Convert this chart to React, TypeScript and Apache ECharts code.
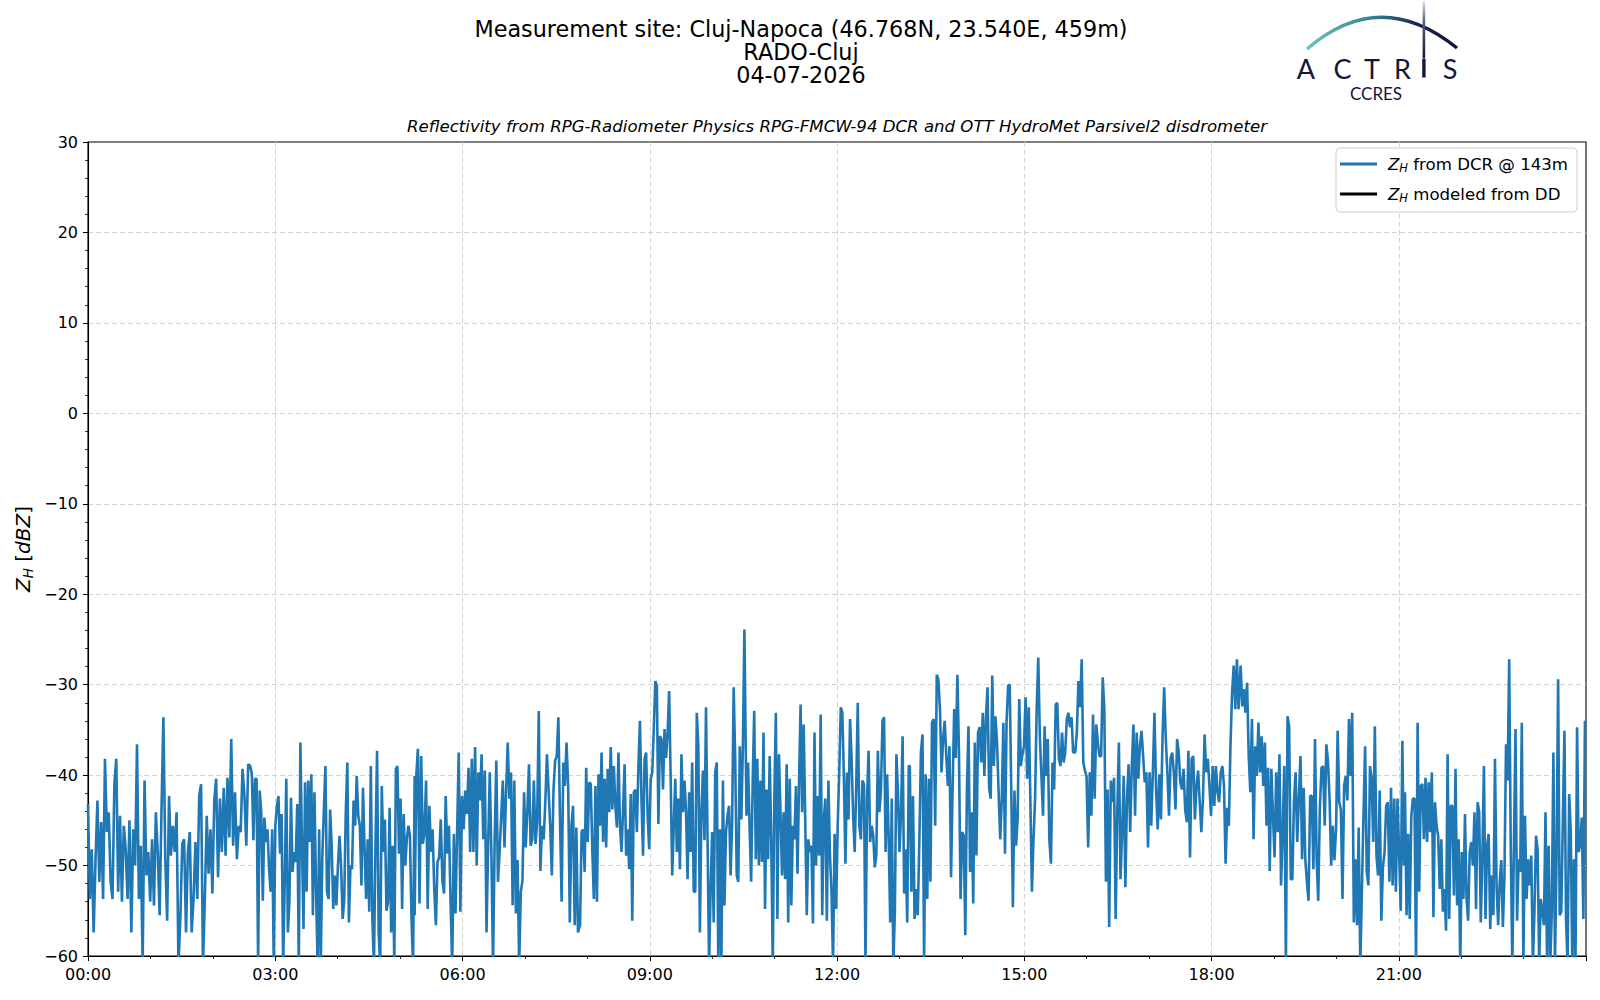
import React, { useEffect, useRef } from "react";
import * as echarts from "echarts";

// Reflectivity Z_H from DCR @ 143m, dBZ. Each segment is read from one stretch of the picture
// and spread evenly over its time span (minutes after 00:00).
const seg0 = [
  -43.2, -53.7, -48.2, -57.4, -49.3, -42.8, -51.8, -45.2, -53.7, -38.2,
  -46.3, -44.1, -51.8, -53.7, -41.0, -38.2, -52.9, -44.5, -54.0, -45.6,
  -48.2, -53.7, -45.0, -57.4, -46.0, -50.0, -36.6, -53.7, -47.8, -61,
  -40.6, -51.1, -48.5, -54.0, -47.1, -54.4, -44.1, -48.5, -55.5, -43.8,
  -33.6, -49.3, -56.1, -42.3, -48.9, -45.6, -48.5, -44.1, -61, -55.9,
  -47.6, -47.1, -57.4, -48.5, -46.3, -57.4, -53.7, -47.4, -53.7, -42.3,
  -41.0, -61, -53.7, -44.5, -50.9, -46.0, -53.1, -42.8, -40.4, -51.3,
  -42.6, -48.5, -41.4, -48.9, -40.3, -46.9, -36.0, -47.8, -41.9, -49.3,
  -45.6, -46.3, -39.3, -42.3, -47.8, -38.8,
];
const seg1 = [
  -39.0, -39.9, -47.2, -40.4, -40.4, -61, -41.7, -44.1, -53.9, -44.7,
  -47.4, -46.0, -50.4, -52.9, -46.0, -61, -45.6, -43.4, -42.3, -48.7,
  -44.3, -61, -51.8, -40.4, -57.4, -54.0, -42.5, -50.7, -48.5, -49.6,
  -43.2, -61, -36.4, -47.4, -57.0, -40.8, -52.9, -40.6, -47.4, -39.9,
  -55.5, -41.9, -52.6, -61, -46.0, -61, -49.1, -43.9, -39.0, -52.9,
  -53.7, -43.8, -47.8, -54.8, -51.1, -54.4, -50.0, -46.7, -50.0, -55.9,
  -53.9, -44.1, -38.6, -56.3, -50.0, -50.4, -42.8, -45.6, -40.1, -44.5,
  -45.6, -52.2, -41.4, -48.2, -53.7, -47.1, -55.1, -39.0, -55.9, -61,
  -47.4, -37.3, -57.4, -61, -41.2, -48.5, -44.9, -55.0, -54.0, -43.6,
  -57.4, -47.8, -61, -39.3, -39.0, -48.7, -42.6, -54.8, -44.3, -50.0,
  -47.1, -45.6, -46.7, -55.9, -61, -40.1,
];
const seg2 = [
  -55.5, -40.1, -37.1, -54.2, -37.9, -47.6, -46.3, -40.6, -54.8, -43.4,
  -48.5, -46.0, -52.6, -56.6, -49.6, -49.1, -44.9, -51.7, -53.1, -42.3,
  -48.7, -45.6, -54.0, -61, -46.5, -55.3, -46.3, -37.5, -55.1, -42.3,
  -46.0, -41.7, -44.3, -39.2, -48.5, -38.2, -48.5, -36.9, -50.0, -39.7,
  -42.8, -37.7, -47.1, -39.5, -57.4, -47.8, -39.7, -48.7, -61, -47.1,
  -38.4, -51.8, -48.5, -44.5, -40.6, -48.0, -41.9, -36.4, -42.6, -39.7,
  -54.4, -40.6, -55.3, -49.4, -61, -52.9, -51.7, -41.9, -48.0, -44.1,
  -38.8, -47.8, -47.1, -40.6, -47.6, -45.2, -32.9, -50.6, -45.6, -47.1,
  -43.0, -37.7, -41.7, -45.6, -51.1, -41.7, -38.4, -37.9, -33.6, -44.9,
  -54.0, -38.6, -41.2, -36.4, -41.2, -56.3, -45.6, -43.4, -56.6, -45.8,
  -57.4,
];
const seg3 = [
  -56.6, -46.3, -46.0, -50.7, -39.2, -47.4, -40.8, -41.0, -48.5, -53.7,
  -41.2, -54.0, -39.9, -45.6, -37.5, -47.4, -40.4, -48.0, -39.3, -44.1,
  -36.9, -43.8, -39.0, -43.4, -45.8, -37.5, -45.6, -48.5, -43.8, -38.8,
  -48.9, -46.0, -50.4, -42.1, -56.1, -41.9, -41.6, -46.3, -39.0, -34.0,
  -42.8, -48.9, -38.2, -37.5, -44.5, -48.2, -40.4, -39.7, -34.9, -29.6,
  -30.1, -45.4, -35.7, -36.0, -41.6, -34.9, -38.1, -35.3, -30.7, -40.4,
  -51.1, -45.6, -40.4, -48.5, -42.6, -50.4, -37.7, -44.1, -40.6, -44.1,
  -51.5, -41.9, -48.5, -38.6, -52.9, -52.9, -33.1, -36.8, -57.4, -44.1,
  -39.5, -47.2, -32.5, -47.1, -61, -52.6, -46.3, -56.3, -39.7, -38.6,
  -61, -46.0, -61, -40.6, -54.4, -46.3, -44.5, -43.4, -51.1, -45.2,
  -30.3, -38.2, -51.1, -51.8, -36.8, -44.9, -36.8, -23.9,
];
const seg4 = [
  -44.5, -38.6, -45.6, -51.8, -40.8, -32.9, -49.3, -38.2, -50.0, -40.6,
  -49.6, -35.3, -54.8, -41.6, -49.3, -37.9, -47.1, -61, -42.6, -33.1,
  -55.9, -37.7, -44.1, -51.1, -44.1, -51.5, -38.8, -56.3, -40.4, -54.4,
  -45.6, -47.1, -41.2, -50.9, -40.8, -32.2, -44.1, -34.4, -44.9, -55.5,
  -47.1, -48.5, -47.8, -56.4, -35.3, -50.0, -42.3, -48.9, -33.3, -55.5,
  -44.9, -42.6, -56.1, -40.6, -48.9, -52.9, -61, -46.5, -54.8, -45.6,
  -39.7, -32.5, -33.1, -40.1, -49.8, -39.7, -44.9, -33.8, -38.2, -44.5,
  -48.5, -41.2, -32.0, -45.6, -47.1, -40.6, -41.0, -61, -42.6, -37.3,
  -47.4, -45.6, -46.7, -50.2, -48.9, -37.3, -44.1, -41.6, -34.0, -33.6,
  -48.5, -39.9, -47.1, -56.3, -42.6, -61, -55.1, -37.7, -41.9, -48.5,
  -44.1, -35.7, -53.1, -48.2, -56.3, -39.0,
];
const seg5 = [
  -39.0, -52.9, -42.3, -55.9, -52.6, -55.5, -47.4, -37.5, -35.5, -61,
  -39.9, -53.7, -40.4, -51.8, -34.2, -33.8, -45.6, -28.9, -29.4, -32.7,
  -39.7, -36.0, -34.0, -37.9, -41.2, -36.8, -51.3, -41.2, -32.7, -38.1,
  -28.9, -37.5, -53.7, -46.3, -46.7, -57.7, -41.7, -34.6, -50.7, -44.1,
  -54.2, -36.4, -48.9, -35.3, -34.7, -38.6, -33.1, -40.1, -33.6, -30.3,
  -41.4, -42.6, -29.0, -39.0, -33.5, -36.4, -41.9, -47.1, -42.6, -34.2,
  -48.7, -34.2, -30.1, -30.0, -41.9, -54.6, -41.7, -47.8, -44.9, -31.6,
  -39.0, -37.7, -36.8, -31.4, -40.4, -32.5, -42.6, -52.9, -47.1, -42.6,
  -32.7, -27.0, -35.7, -40.1, -44.5, -34.6, -40.1, -36.0, -47.1, -49.8,
  -38.6, -41.6, -32.2, -32.0, -38.2, -39.0, -35.3, -38.6, -37.5, -33.8,
  -33.1, -34.7, -33.6, -37.5,
];
const seg6 = [
  -37.5, -35.3, -29.6, -32.5, -27.2, -38.6, -39.5, -40.1, -48.0, -39.7,
  -44.5, -33.3, -42.6, -34.4, -36.4, -37.9, -37.9, -29.2, -32.7, -51.8,
  -41.6, -56.8, -40.6, -43.0, -40.3, -55.9, -44.1, -36.4, -51.5, -46.3,
  -40.1, -52.4, -42.6, -38.8, -46.3, -39.0, -34.4, -44.5, -35.3, -40.4,
  -36.8, -35.1, -37.9, -40.8, -39.7, -48.0, -39.7, -45.6, -39.7, -33.1,
  -41.6, -46.0, -39.9, -44.9, -35.7, -30.3, -36.0, -39.7, -44.5, -38.1,
  -37.5, -39.7, -43.8, -36.0, -37.5, -40.8, -41.6, -39.3, -43.8, -45.2,
  -37.3, -49.1, -38.2, -37.9, -44.9, -41.2, -39.5, -43.0, -46.3, -42.6,
  -35.5, -39.7, -38.2, -41.2, -44.5, -39.0, -43.4, -39.0, -41.9, -43.0,
  -39.7, -39.0, -41.2, -49.8, -43.6, -45.6, -36.8, -30.9, -27.9, -32.7,
  -27.2, -32.7,
];
const seg7 = [
  -27.9, -32.4, -30.5, -33.1, -29.8, -37.9, -41.9, -33.8, -47.1, -36.8,
  -40.1, -34.2, -39.7, -35.7, -41.2, -36.4, -45.6, -39.2, -50.6, -39.3,
  -44.5, -49.1, -39.7, -46.3, -37.7, -52.2, -46.3, -39.0, -61, -33.5,
  -34.6, -51.5, -51.5, -42.8, -39.7, -47.4, -42.6, -37.9, -49.3, -41.4,
  -49.3, -51.8, -53.9, -42.3, -42.3, -50.4, -36.0, -49.3, -53.9, -43.6,
  -39.2, -39.0, -45.6, -36.6, -38.4, -42.6, -50.0, -45.6, -49.4, -46.1,
  -35.1, -43.0, -43.8, -53.7, -41.2, -40.1, -42.8, -33.8, -40.1, -33.1,
  -56.3, -49.3, -56.6, -45.8, -61, -52.6, -44.3, -36.8, -50.7, -52.2,
  -39.0, -40.3, -47.4, -34.6, -48.9, -51.1, -41.7, -56.1, -50.2, -48.5,
  -43.4, -43.0, -51.8, -41.4, -52.2, -42.6, -52.9, -42.6, -48.5, -55.0,
  -36.2, -50.0,
];
const seg8 = [
  -41.9, -55.5, -46.5, -55.9, -44.5, -42.6, -42.6, -61, -34.2, -52.9,
  -41.2, -41.0, -47.1, -40.3, -47.4, -40.8, -46.3, -39.7, -55.7, -43.0,
  -45.6, -46.7, -52.6, -47.1, -55.1, -52.6, -57.2, -37.7, -55.9, -43.4,
  -43.4, -53.3, -39.3, -54.4, -47.1, -61, -48.5, -53.7, -44.3, -53.7,
  -56.1, -48.5, -47.4, -50.0, -44.1, -54.8, -43.0, -44.1, -56.3, -49.3,
  -39.0, -55.9, -47.8, -46.5, -57.0, -51.1, -55.5, -38.2, -52.2, -56.6,
  -51.8, -49.4, -56.8, -51.1, -36.6, -40.6, -27.2, -48.2, -61, -47.8,
  -34.9, -56.1, -49.3, -50.7, -34.2, -61, -44.5, -53.7, -49.3, -52.2,
  -48.9, -61, -55.1, -46.7, -48.2, -61, -53.7, -55.1, -56.6, -44.1,
  -61, -47.8, -61, -55.1, -37.5, -61, -49.1, -29.4, -55.5, -55.1,
  -44.9, -35.1, -55.9, -61, -42.1, -46.3, -61, -49.3, -61, -34.7,
  -48.5, -47.6, -44.7, -55.9, -34.0,
];

const segments = [seg0, seg1, seg2, seg3, seg4, seg5, seg6, seg7, seg8];
const segStartMin = [0, 156, 314, 473, 633, 790, 949, 1108, 1266];
const segEndMin = [154, 314, 471, 631, 789, 947, 1106, 1265, 1439];

// Modeled from disdrometer: no data for the day
const ddValues: number[][] = [];

const xTickMinutes = [0, 180, 360, 540, 720, 900, 1080, 1260];
const yTicks = [-60, -50, -40, -30, -20, -10, 0, 10, 20, 30];

const titleLines = [
  "Measurement site: Cluj-Napoca (46.768N, 23.540E, 459m)",
  "RADO-Cluj",
  "04-07-2026",
];
const subtitle =
  "Reflectivity from RPG-Radiometer Physics RPG-FMCW-94 DCR and OTT HydroMet Parsivel2 disdrometer";
const seriesNames = ["Z_H from DCR @ 143m", "Z_H modeled from DD"];
const legendRich = ["{g| }{i|Z}{s|H} from DCR @ 143m", "{g| }{i|Z}{s|H} modeled from DD"];
const logoLetters = ["A", "C", "T", "R", "S"];

const FONT = "DejaVu Sans";

function buildDcr(): number[][] {
  const pts: number[][] = [];
  segments.forEach((seg, s) => {
    const a = segStartMin[s];
    const b = segEndMin[s];
    const n = seg.length;
    seg.forEach((v, i) => pts.push([a + ((b - a) * i) / (n - 1), v]));
  });
  return pts;
}

function fmtTime(m: number): string {
  const h = Math.floor(m / 60);
  const mm = Math.round(m % 60);
  return String(h).padStart(2, "0") + ":" + String(mm).padStart(2, "0");
}

export default function App() {
  const ref = useRef<HTMLDivElement>(null);

  useEffect(() => {
    if (!ref.current) return;
    const chart = echarts.init(ref.current, undefined, { renderer: "svg" });
    const LF = 16.6;
    const richSub = {
      g: { fontFamily: FONT, fontSize: LF, width: 6, lineHeight: 20 },
      i: { fontFamily: FONT, fontSize: LF, fontStyle: "italic", color: "#000", lineHeight: 20 },
      s: { fontFamily: FONT, fontSize: 11.5, fontStyle: "italic", color: "#000", lineHeight: 11, verticalAlign: "bottom" },
    };
    const letterX = [1306, 1342.5, 1372, 1402.5, 1450];
    const gridLine = { show: true, showMinLine: false, showMaxLine: false, lineStyle: { color: "#d3d3d3", type: [5, 3], width: 1 } };

    const option: any = {
      animation: false,
      backgroundColor: "#ffffff",
      title: [
        {
          text: titleLines.join("\n"),
          left: 801,
          top: 17,
          textAlign: "center",
          padding: 0,
          textStyle: { fontFamily: FONT, fontSize: 22.3, fontWeight: "normal", color: "#000", lineHeight: 23 },
        },
        {
          text: subtitle,
          left: 837,
          top: 116,
          textAlign: "center",
          padding: 0,
          textStyle: { fontFamily: FONT, fontSize: 16.6, fontStyle: "italic", fontWeight: "normal", color: "#000", lineHeight: 20 },
        },
      ],
      grid: {
        left: 88,
        top: 142,
        width: 1498,
        height: 814,
        show: true,
        borderColor: "#000",
        borderWidth: 1.1,
        backgroundColor: "transparent",
        containLabel: false,
      },
      legend: {
        orient: "vertical",
        left: 1336,
        top: 148,
        padding: [6, 9, 8, 4],
        itemGap: 10,
        itemWidth: 37,
        itemHeight: 3,
        selectedMode: false,
        backgroundColor: "rgba(255,255,255,0.8)",
        borderColor: "#cccccc",
        borderWidth: 1,
        borderRadius: 4,
        data: [
          { name: seriesNames[0], icon: "rect" },
          { name: seriesNames[1], icon: "rect" },
        ],
        formatter: (name: string) => legendRich[seriesNames.indexOf(name)],
        textStyle: { fontFamily: FONT, fontSize: LF, color: "#000", lineHeight: 20, rich: richSub },
      },
      xAxis: {
        type: "value",
        min: 0,
        max: 1440,
        interval: 180,
        axisLine: { show: true, onZero: false, lineStyle: { color: "#000", width: 1.1 } },
        axisTick: { show: true, inside: false, length: 5, lineStyle: { color: "#000", width: 1 } },
        minorTick: { show: true, splitNumber: 3, length: 3, lineStyle: { color: "#000", width: 0.8 } },
        axisLabel: {
          fontFamily: FONT,
          fontSize: 16,
          color: "#000",
          margin: 10,
          showMaxLabel: false,
          formatter: (v: number) => (xTickMinutes.includes(v) ? fmtTime(v) : ""),
        },
        splitLine: gridLine,
      },
      yAxis: {
        type: "value",
        min: yTicks[0],
        max: yTicks[yTicks.length - 1],
        interval: 10,
        axisLine: { show: true, onZero: false, lineStyle: { color: "#000", width: 1.1 } },
        axisTick: { show: true, inside: false, length: 5, lineStyle: { color: "#000", width: 1 } },
        minorTick: { show: true, splitNumber: 5, length: 3, lineStyle: { color: "#000", width: 0.8 } },
        axisLabel: {
          fontFamily: FONT,
          fontSize: 16,
          color: "#000",
          margin: 10,
          formatter: (v: number) => (v < 0 ? "\u2212" + Math.abs(v) : String(v)),
        },
        splitLine: gridLine,
      },
      series: [
        {
          name: seriesNames[0],
          type: "line",
          data: buildDcr(),
          showSymbol: false,
          symbol: "none",
          clip: true,
          color: "#1f77b4",
          lineStyle: { color: "#1f77b4", width: 2.6 },
          silent: true,
        },
        {
          name: seriesNames[1],
          type: "line",
          data: ddValues,
          showSymbol: false,
          symbol: "none",
          color: "#000000",
          lineStyle: { color: "#000000", width: 2.3 },
          silent: true,
        },
      ],
      graphic: [
        {
          type: "text",
          x: 22.5,
          y: 549,
          rotation: Math.PI / 2,
          style: {
            text: "{i|Z}{s|H} [{i|dBZ}]",
            fontFamily: FONT,
            fontSize: 20,
            fill: "#000",
            align: "center",
            verticalAlign: "middle",
            rich: {
              i: { fontFamily: FONT, fontSize: 20, fontStyle: "italic", fill: "#000", lineHeight: 24 },
              s: { fontFamily: FONT, fontSize: 13.5, fontStyle: "italic", fill: "#000", lineHeight: 13, verticalAlign: "bottom" },
            },
          },
        },
        {
          type: "bezierCurve",
          shape: { x1: 1307, y1: 49, x2: 1457, y2: 48, cpx1: 1380, cpy1: -14 },
          style: {
            fill: "none",
            lineWidth: 3.4,
            stroke: new echarts.graphic.LinearGradient(0, 0, 1, 0, [
              { offset: 0, color: "#6cc4c1" },
              { offset: 0.45, color: "#2f7f92" },
              { offset: 0.75, color: "#16214e" },
              { offset: 1, color: "#0f1236" },
            ]),
          },
        },
        {
          type: "rect",
          shape: { x: 1422.6, y: 1, width: 2.6, height: 57 },
          style: {
            fill: new echarts.graphic.LinearGradient(0, 0, 0, 1, [
              { offset: 0, color: "#e0e2ec" },
              { offset: 0.35, color: "#5a5f86" },
              { offset: 1, color: "#12163a" },
            ]),
          },
        },
        {
          type: "rect",
          shape: { x: 1422.2, y: 58.5, width: 3.4, height: 19 },
          style: { fill: "#14163a" },
        },
        ...logoLetters.map((ch, k) => ({
          type: "text",
          x: letterX[k],
          y: 68,
          style: {
            text: ch,
            fontFamily: "Lato",
            fontWeight: "normal",
            fontSize: 27,
            fill: "#14163a",
            align: "center",
            verticalAlign: "middle",
          },
        })),
        {
          type: "text",
          x: 1376,
          y: 93.5,
          style: {
            text: "CCRES",
            fontFamily: "Lato",
            fontSize: 17,
            fill: "#14163a",
            align: "center",
            verticalAlign: "middle",
          },
        },
      ],
    };
    chart.setOption(option);
    return () => chart.dispose();
  }, []);

  return (
    <div
      ref={ref}
      style={{ position: "absolute", left: 0, top: 0, width: 1600, height: 1000, background: "#fff" }}
    />
  );
}
